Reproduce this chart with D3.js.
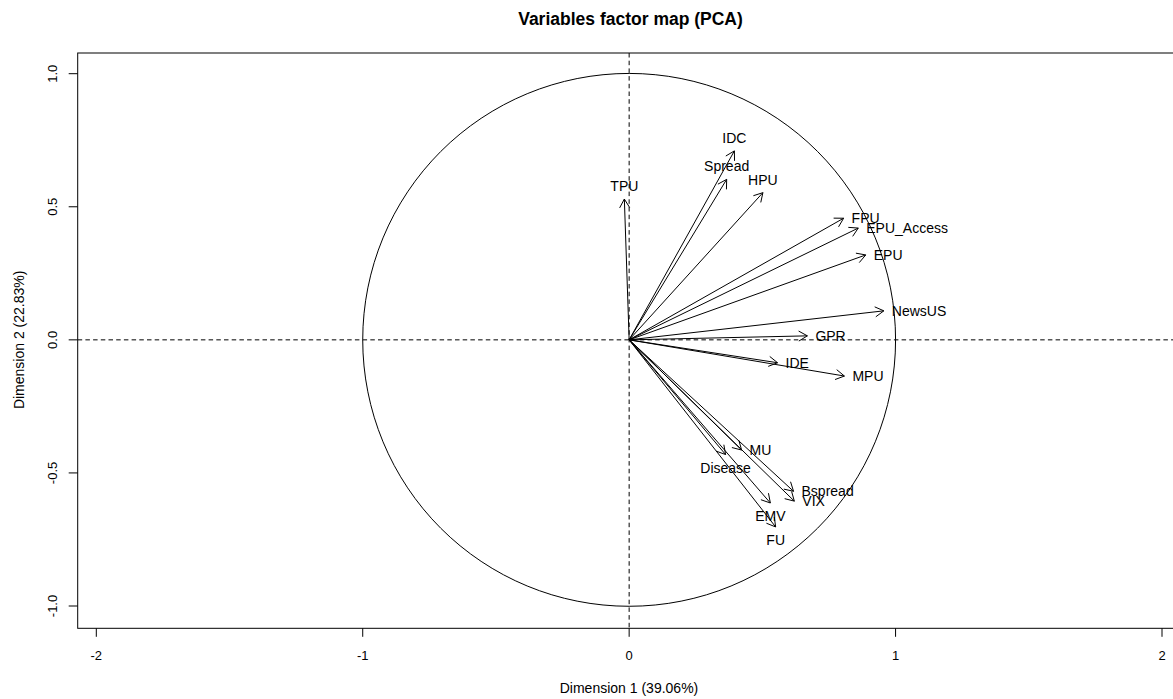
<!DOCTYPE html>
<html>
<head>
    <meta charset="utf-8">
    <title>Variables factor map (PCA)</title>
    <script src="https://cdnjs.cloudflare.com/ajax/libs/d3/7.8.5/d3.min.js"></script>
    <style>
        html, body {
            margin: 0;
            padding: 0;
            background: white;
        }
        svg {
            display: block;
            font-family: 'Liberation Sans', Arial, Helvetica, sans-serif;
        }
    </style>
</head>
<body>
    <svg id="chart" width="1173" height="699"></svg>
    <script>
        // PCA variable coordinates (Dim 1, Dim 2)
        const variables = ["TPU", "IDC", "Spread", "HPU", "FPU", "EPU_Access", "EPU", "NewsUS", "GPR",
            "IDE", "MPU", "MU", "Disease", "Bspread", "VIX", "EMV", "FU"];
        const dim1 = [-0.018, 0.395, 0.366, 0.502, 0.805, 0.860, 0.888, 0.956, 0.669,
            0.557, 0.808, 0.422, 0.362, 0.617, 0.620, 0.530, 0.550];
        const dim2 = [0.529, 0.710, 0.603, 0.553, 0.457, 0.420, 0.319, 0.109, 0.015,
            -0.086, -0.136, -0.414, -0.431, -0.569, -0.606, -0.613, -0.703];

        const xTicks = [-2, -1, 0, 1, 2];
        const yTicks = [-1.0, -0.5, 0.0, 0.5, 1.0];

        const title = "Variables factor map (PCA)";
        const xTitle = "Dimension 1 (39.06%)";
        const yTitle = "Dimension 2 (22.83%)";

        const svg = d3.select("#chart");

        const x = d3.scaleLinear().domain([-2, 2]).range([96.3, 1162]);
        const y = d3.scaleLinear().domain([-1, 1]).range([606, 73.7]);

        // plot region (R's usr extents)
        const box = { left: 77.7, top: 53, right: 1181, bottom: 628.3 };

        svg.append("defs").append("clipPath")
            .attr("id", "plotclip")
            .append("rect")
            .attr("x", box.left)
            .attr("y", box.top)
            .attr("width", box.right - box.left)
            .attr("height", box.bottom - box.top);

        const plot = svg.append("g").attr("clip-path", "url(#plotclip)");

        // unit circle
        plot.append("circle")
            .attr("cx", x(0))
            .attr("cy", y(0))
            .attr("r", x(1) - x(0))
            .attr("fill", "none")
            .attr("stroke", "black")
            .attr("stroke-width", 1);

        // dashed axes through origin
        plot.append("line")
            .attr("x1", box.left).attr("x2", box.right)
            .attr("y1", y(0)).attr("y2", y(0))
            .attr("stroke", "black")
            .attr("stroke-dasharray", "4.5,3.2");

        plot.append("line")
            .attr("x1", x(0)).attr("x2", x(0))
            .attr("y1", box.top).attr("y2", box.bottom)
            .attr("stroke", "black")
            .attr("stroke-dasharray", "4.5,3.2");

        const points = variables.map((name, i) => ({ name, px: dim1[i], py: dim2[i] }));

        // arrows
        const headLen = 10;
        const headAngle = Math.PI / 6;
        const ox = x(0), oy = y(0);

        const arrows = plot.selectAll("g.arrow")
            .data(points)
            .enter()
            .append("g")
            .attr("class", "arrow");

        arrows.append("line")
            .attr("x1", ox)
            .attr("y1", oy)
            .attr("x2", d => x(d.px))
            .attr("y2", d => y(d.py))
            .attr("stroke", "black")
            .attr("stroke-width", 1);

        arrows.append("path")
            .attr("d", d => {
                const tx = x(d.px), ty = y(d.py);
                const a = Math.atan2(ty - oy, tx - ox);
                const p1 = [tx - headLen * Math.cos(a - headAngle), ty - headLen * Math.sin(a - headAngle)];
                const p2 = [tx - headLen * Math.cos(a + headAngle), ty - headLen * Math.sin(a + headAngle)];
                return `M${p1[0]},${p1[1]}L${tx},${ty}L${p2[0]},${p2[1]}`;
            })
            .attr("fill", "none")
            .attr("stroke", "black")
            .attr("stroke-width", 1);

        // labels: right of the tip when |x| > |y|, otherwise above / below
        arrows.append("text")
            .attr("font-size", "14px")
            .attr("fill", "black")
            .each(function (d) {
                const tx = x(d.px), ty = y(d.py);
                const t = d3.select(this);
                if (Math.abs(d.px) > Math.abs(d.py)) {
                    t.attr("x", tx + 8).attr("y", ty + 5).attr("text-anchor", "start");
                } else if (d.py > 0) {
                    t.attr("x", tx).attr("y", ty - 8).attr("text-anchor", "middle");
                } else {
                    t.attr("x", tx).attr("y", ty + 18).attr("text-anchor", "middle");
                }
            })
            .text(d => d.name);

        // frame
        svg.append("rect")
            .attr("x", box.left)
            .attr("y", box.top)
            .attr("width", box.right - box.left)
            .attr("height", box.bottom - box.top)
            .attr("fill", "none")
            .attr("stroke", "black")
            .attr("stroke-width", 1);

        // x axis
        const xAxis = svg.append("g");
        xAxis.selectAll("line")
            .data(xTicks)
            .enter()
            .append("line")
            .attr("x1", d => x(d)).attr("x2", d => x(d))
            .attr("y1", box.bottom).attr("y2", box.bottom + 8.5)
            .attr("stroke", "black");
        xAxis.selectAll("text")
            .data(xTicks)
            .enter()
            .append("text")
            .attr("x", d => x(d))
            .attr("y", 660)
            .attr("text-anchor", "middle")
            .attr("font-size", "13px")
            .text(d => String(d));

        // y axis
        const yAxis = svg.append("g");
        yAxis.selectAll("line")
            .data(yTicks)
            .enter()
            .append("line")
            .attr("x1", box.left - 9).attr("x2", box.left)
            .attr("y1", d => y(d)).attr("y2", d => y(d))
            .attr("stroke", "black");
        yAxis.selectAll("text")
            .data(yTicks)
            .enter()
            .append("text")
            .attr("transform", d => `translate(57,${y(d)}) rotate(-90)`)
            .attr("text-anchor", "middle")
            .attr("font-size", "13px")
            .text(d => d.toFixed(1));

        // titles
        svg.append("text")
            .attr("x", 630.5)
            .attr("y", 25)
            .attr("text-anchor", "middle")
            .attr("font-size", "17.5px")
            .attr("font-weight", "bold")
            .text(title);

        svg.append("text")
            .attr("x", 629)
            .attr("y", 693)
            .attr("text-anchor", "middle")
            .attr("font-size", "14px")
            .text(xTitle);

        svg.append("text")
            .attr("transform", `translate(23.5,${y(0)}) rotate(-90)`)
            .attr("text-anchor", "middle")
            .attr("font-size", "14px")
            .text(yTitle);
    </script>
</body>
</html>
